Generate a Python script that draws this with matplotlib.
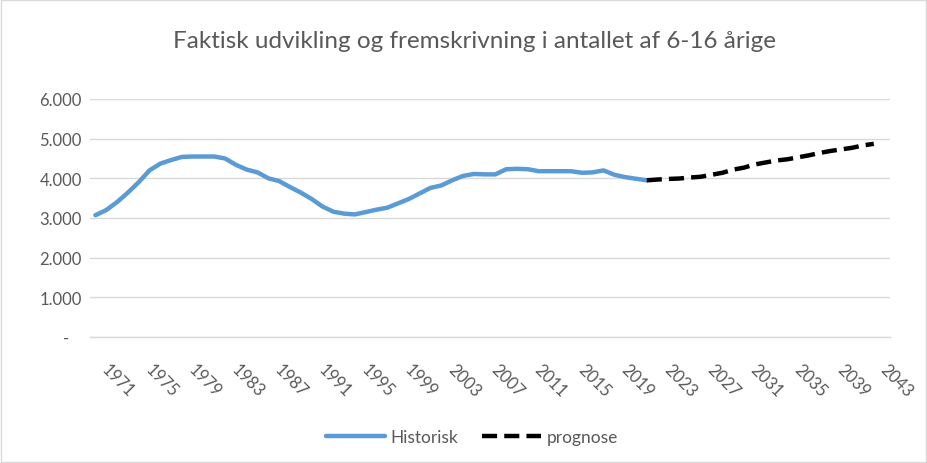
import matplotlib
matplotlib.use("Agg")
import matplotlib.pyplot as plt
from matplotlib.patches import Rectangle
import matplotlib.transforms as mtransforms

plt.rcParams['font.family'] = ['Lato', 'DejaVu Sans']

# historic values 1970-2021
hist_years = list(range(1970, 2022))
hist_vals = [3070, 3200, 3400, 3640, 3900, 4200, 4370, 4460, 4540, 4550,
             4550, 4550, 4500, 4340, 4220, 4150, 4000, 3930, 3780, 3640,
             3480, 3290, 3160, 3110, 3090, 3150, 3210, 3260, 3370, 3480,
             3620, 3760, 3820, 3950, 4060, 4110, 4100, 4100, 4230, 4240,
             4230, 4180, 4180, 4180, 4180, 4140, 4150, 4200, 4090, 4030,
             3990, 3950]

# prognosis 2021-2042
prog_years = list(range(2021, 2043))
prog_vals = [3950, 3970, 3985, 3995, 4020, 4040, 4090, 4140, 4220, 4270,
             4350, 4400, 4450, 4480, 4530, 4580, 4640, 4690, 4730, 4770,
             4830, 4870]

tick_years = list(range(1971, 2044, 4))
y_ticks = [0, 1000, 2000, 3000, 4000, 5000, 6000]
y_labels = ['-   ', '1.000', '2.000', '3.000', '4.000', '5.000', '6.000']

title = 'Faktisk udvikling og fremskrivning i antallet af 6-16 årige'

txt = '#595959'
grid = '#d9d9d9'

fig = plt.figure(figsize=(9.28, 4.64), dpi=100)
ax = fig.add_axes([90 / 928, 1 - 338 / 464, 800 / 928, 238 / 464])

ax.plot(hist_years, hist_vals, color='#5b9bd5', lw=3.2,
        solid_capstyle='round', label='Historisk', zorder=3)
ax.plot(prog_years, prog_vals, color='black', lw=3.2,
        dashes=(3.4, 1.6), dash_capstyle='butt', label='prognose', zorder=3)

ax.set_xlim(1969.5, 2043.5)
ax.set_ylim(0, 6000)
ax.set_yticks(y_ticks)
ax.set_yticklabels(y_labels)
ax.set_xticks(tick_years)
ax.set_xticklabels([str(y) for y in tick_years], rotation=-45,
                   ha='left', va='top', rotation_mode='anchor')

ax.tick_params(axis='both', length=0, colors=txt, labelsize=12)
ax.tick_params(axis='x', pad=17)
ax.tick_params(axis='y', pad=6)
# nudge rotated year labels a little to the right
shift = mtransforms.ScaledTranslation(4 / 100, 0, fig.dpi_scale_trans)
for lab in ax.get_xticklabels():
    lab.set_transform(lab.get_transform() + shift)

ax.grid(axis='y', color=grid, lw=1)
ax.set_axisbelow(True)
for s in ['top', 'right', 'left']:
    ax.spines[s].set_visible(False)
ax.spines['bottom'].set_color(grid)
ax.spines['bottom'].set_linewidth(1)

fig.text(475 / 928, 1 - 42 / 464, title, ha='center', va='center',
         fontsize=17.5, color=txt)

leg = fig.legend(loc='center', bbox_to_anchor=(472 / 928, 1 - 438 / 464),
                 ncol=2, frameon=False, fontsize=12.5, handlelength=3.4,
                 columnspacing=1.4, handletextpad=0.3)
for t in leg.get_texts():
    t.set_color(txt)

fig.patches.append(Rectangle((0.001, 0.002), 0.997, 0.996, transform=fig.transFigure,
                             fill=False, edgecolor=grid, lw=1))

fig.savefig('out.png', dpi=100)
